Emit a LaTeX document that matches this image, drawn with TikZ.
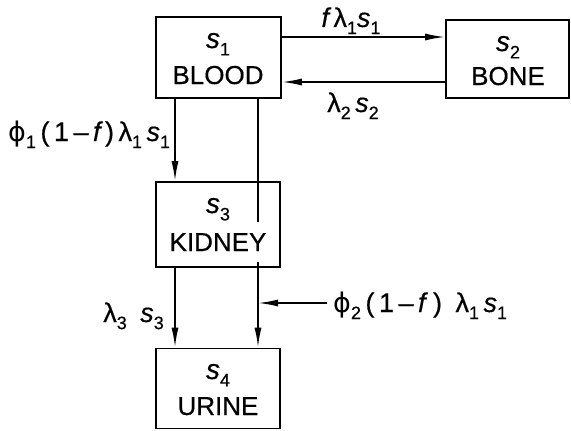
\documentclass[tikz,border=0pt]{standalone}
\usepackage{fontspec}
\setmainfont{Liberation Sans}[FakeBold=0.5]
\newfontfamily\dvfont{DejaVu Sans}
\usetikzlibrary{arrows.meta}
\newcommand\sbx[1]{\raisebox{-0.5ex}{\fontsize{18}{18}\selectfont #1}}
\newcommand\vv[2]{{\itshape #1}\sbx{#2}}
\newcommand\lm[1]{λ\sbx{#1}}
\newcommand\ph[1]{{\dvfont ϕ}\sbx{#1}}
\begin{document}
\begin{tikzpicture}[x=1pt,y=-1pt,
  box/.style={draw, line width=1.8pt, inner sep=0pt},
  txt/.style={inner sep=0pt, anchor=base, font=\fontsize{26}{28}\selectfont},
  var/.style={inner sep=0pt, anchor=base, font=\fontsize{28}{30}\selectfont},
  lbl/.style={inner sep=0pt, font=\fontsize{27}{29}\selectfont},
  flow/.style={line width=1.7pt, -{Latex[length=20pt,width=7pt]}},
  plain/.style={line width=1.7pt}]
\useasboundingbox (0,0) rectangle (571,431);
% boxes
\node[box, minimum width=125pt, minimum height=81pt] (blood) at (218.5,57.5) {};
\node[box, minimum width=123pt, minimum height=78pt] (bone) at (507.5,59) {};
\node[box, minimum width=124pt, minimum height=85pt] (kidney) at (218,224.5) {};
\node[box, minimum width=124pt, minimum height=80pt] (urine) at (218,388.5) {};
% box texts
\node[var] (t1a) at (218,48) {\vv{s}{1}};
\node[txt] (t1b) at (218,84) {BLOOD};
\node[var] (t2a) at (508,51) {\vv{s}{2}};
\node[txt] (t2b) at (508,85) {BONE};
\node[var] (t3a) at (218,213) {\vv{s}{3}};
\node[txt] (t3b) at (218,251) {KIDNEY};
\node[var] (t4a) at (218,379) {\vv{s}{4}};
\node[txt] (t4b) at (218,415) {URINE};
% helper coordinates
\coordinate (h1) at (0,37);
\coordinate (h2) at (0,82);
\coordinate (v1) at (175,0);
\coordinate (v2) at (258,0);
\coordinate (kin) at (258,222);
\coordinate (kout) at (258,262);
\coordinate (inj) at (327,303);
\coordinate (joint) at (258,303);
% connectors
\draw[flow] (blood.east |- h1) -- (bone.west |- h1);
\draw[flow] (bone.west |- h2) -- (blood.east |- h2);
\draw[flow] (blood.south -| v1) -- (kidney.north -| v1);
\draw[plain] (blood.south -| v2) -- (kin);
\draw[flow] (kidney.south -| v1) -- (urine.north -| v1);
\draw[flow] (kout) -- (urine.north -| v2);
\draw[flow] (inj) -- (joint);
% labels
\node[lbl, anchor=base] (l1) at (351,27) {{\itshape f}\,\lm{1}\vv{s}{1}};
\node[lbl, anchor=base] (l2) at (353,112) {\lm{2}\,\vv{s}{2}};
\node[lbl, anchor=base west] (l3) at (8,141) {\ph{1}\,(\,1\,–\,{\itshape f}\,)\,\lm{1}\,\vv{s}{1}};
\node[lbl, anchor=base east] (l4) at (164,322) {\lm{3}\enspace\vv{s}{3}};
\node[lbl, anchor=base west] (l5) at (333,312) {\ph{2}\,(\,1\,–\,{\itshape f}\;)\enspace\lm{1}\,\vv{s}{1}};
\end{tikzpicture}
\end{document}
